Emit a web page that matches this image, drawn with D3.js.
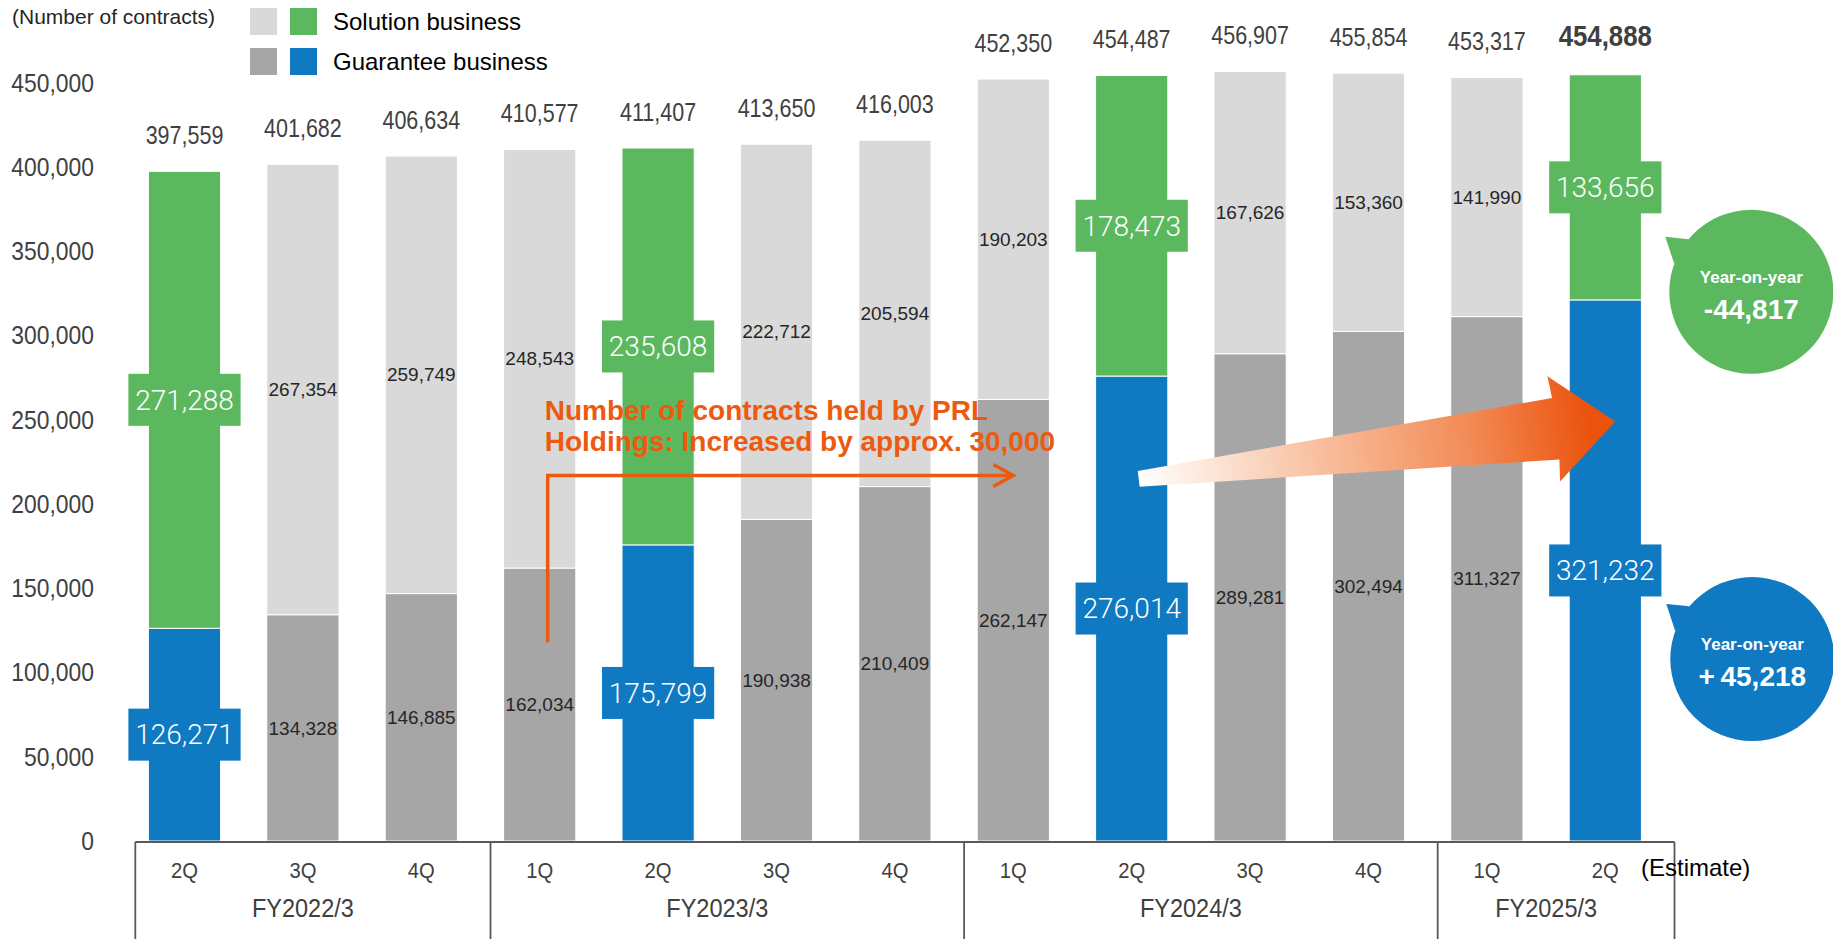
<!DOCTYPE html>
<html>
<head>
<meta charset="utf-8">
<script src="https://cdn.jsdelivr.net/npm/d3@7"></script>
<style>
  body { margin: 0; background: #fff; }
  svg text { font-family: "Liberation Sans", Arial, sans-serif; }
  svg text.light { font-family: Roboto, "Liberation Sans", sans-serif; font-weight: 300; }
</style>
</head>
<body>
<script>
// Contracts per quarter, split into guarantee / solution business
const quarters = ["2Q", "3Q", "4Q", "1Q", "2Q", "3Q", "4Q", "1Q", "2Q", "3Q", "4Q", "1Q", "2Q"];
const fiscalYears = ["FY2022/3", "FY2023/3", "FY2024/3", "FY2025/3"];
const quartersPerYear = [3, 4, 4, 2];
const guarantee = [126271, 134328, 146885, 162034, 175799, 190938, 210409, 262147, 276014, 289281, 302494, 311327, 321232];
const solution = [271288, 267354, 259749, 248543, 235608, 222712, 205594, 190203, 178473, 167626, 153360, 141990, 133656];
const highlighted = [0, 4, 8, 12]; // 2Q of each fiscal year
const yTicks = [0, 50000, 100000, 150000, 200000, 250000, 300000, 350000, 400000, 450000];

const W = 1833, H = 939;
const C = {
  light: "#d9d9d9", gray: "#a6a6a6", green: "#5cb85f", blue: "#0f79c2",
  orange: "#ec5a10", text: "#404040"
};

// narrow the glyphs of a text selection horizontally
function squeeze(sel, k) {
  sel.each(function () {
    const w = this.getComputedTextLength();
    d3.select(this).attr("textLength", w * k).attr("lengthAdjust", "spacingAndGlyphs");
  });
}

const svg = d3.select("body").append("svg").attr("width", W).attr("height", H);

const x = d3.scaleBand()
  .domain(d3.range(quarters.length))
  .range([125.3, 1664.5])
  .paddingInner(0.39)
  .paddingOuter(0.195);
const y = d3.scaleLinear().domain([0, 450000]).range([841, 83]);
const bw = x.bandwidth();
const cx = i => x(i) + bw / 2;
const fmt = d3.format(",");
const last = quarters.length - 1;

const rows = quarters.map((q, i) => ({
  i, q,
  g: guarantee[i],
  s: solution[i],
  total: guarantee[i] + solution[i],
  hi: highlighted.includes(i)
}));

// y axis labels only
svg.append("g")
  .attr("transform", "translate(94,0)")
  .call(d3.axisLeft(y).tickValues(yTicks).tickFormat(fmt).tickSize(0).tickPadding(0))
  .call(g => g.select(".domain").remove())
  .selectAll("text")
  .style("font-size", "26px")
  .style("font-family", null)
  .attr("fill", C.text)
  .call(squeeze, 0.88);

// stacked bars
const bars = svg.append("g");
bars.selectAll(".guar").data(rows).enter().append("rect")
  .attr("x", d => x(d.i)).attr("width", bw)
  .attr("y", d => y(d.g)).attr("height", d => y(0) - y(d.g))
  .attr("fill", d => d.hi ? C.blue : C.gray)
  .attr("stroke", "#fff").attr("stroke-width", 1);
bars.selectAll(".sol").data(rows).enter().append("rect")
  .attr("x", d => x(d.i)).attr("width", bw)
  .attr("y", d => y(d.total)).attr("height", d => y(d.g) - y(d.total))
  .attr("fill", d => d.hi ? C.green : C.light)
  .attr("stroke", "#fff").attr("stroke-width", 1);

// segment labels
const segs = [];
rows.forEach(d => {
  segs.push({ i: d.i, v: d.g, mid: d.g / 2, hi: d.hi, color: C.blue });
  segs.push({ i: d.i, v: d.s, mid: d.g + d.s / 2, hi: d.hi, color: C.green });
});
const labels = svg.append("g");
labels.selectAll("rect").data(segs.filter(s => s.hi)).enter().append("rect")
  .attr("x", s => cx(s.i) - bw / 2 - 20).attr("width", bw + 40)
  .attr("y", s => y(s.mid) - 26).attr("height", 52)
  .attr("fill", s => s.color);
labels.selectAll("text").data(segs).enter().append("text")
  .attr("class", s => s.hi ? "light" : null)
  .attr("x", s => cx(s.i)).attr("y", s => y(s.mid))
  .attr("dy", "0.35em")
  .attr("text-anchor", "middle")
  .attr("font-size", s => s.hi ? 28 : 19)
  .attr("fill", s => s.hi ? "#fff" : "#262626")
  .text(s => fmt(s.v));

// totals above each bar, the latest one in bold
svg.append("g").selectAll("text").data(rows).enter().append("text")
  .attr("x", d => cx(d.i))
  .attr("y", d => y(d.total) - (d.i === last ? 29 : 27))
  .attr("text-anchor", "middle")
  .attr("font-size", d => d.i === last ? 30 : 25)
  .attr("font-weight", d => d.i === last ? "bold" : null)
  .attr("fill", C.text)
  .text(d => fmt(d.total))
  .call(squeeze, 0.86);

// category box under the bars
const step = x.step();
const edge = i => (i < quarters.length ? x(i) : x(last) + step) - (step - bw) / 2 + 10;
const starts = [0];
quartersPerYear.forEach(n => starts.push(starts[starts.length - 1] + n));
const box = svg.append("g").attr("stroke", "#595959").attr("stroke-width", 1.8);
box.append("line")
  .attr("x1", edge(0)).attr("x2", edge(quarters.length))
  .attr("y1", y(0) + 1).attr("y2", y(0) + 1);
box.selectAll(".sep").data(starts).enter().append("line")
  .attr("class", "sep")
  .attr("x1", d => edge(d)).attr("x2", d => edge(d))
  .attr("y1", y(0) + 1).attr("y2", H);

svg.append("g").selectAll("text").data(rows).enter().append("text")
  .attr("x", d => cx(d.i)).attr("y", 870).attr("dy", "0.35em")
  .attr("text-anchor", "middle").attr("font-size", 22).attr("fill", C.text)
  .text(d => d.q)
  .call(squeeze, 0.92);
svg.append("g").selectAll("text").data(fiscalYears).enter().append("text")
  .attr("x", (f, k) => d3.mean(d3.range(starts[k], starts[k + 1]), cx))
  .attr("y", 908).attr("dy", "0.35em")
  .attr("text-anchor", "middle").attr("font-size", 25).attr("fill", C.text)
  .text(f => f)
  .call(squeeze, 0.94);
svg.append("text")
  .attr("x", 1641).attr("y", 868).attr("dy", "0.35em")
  .attr("font-size", 24).attr("fill", "#000")
  .text("(Estimate)");

// unit and legend
svg.append("text")
  .attr("x", 12).attr("y", 17).attr("dy", "0.35em")
  .attr("font-size", 21).attr("fill", "#262626")
  .text("(Number of contracts)");
const legend = [
  { name: "Solution business", colors: [C.light, C.green] },
  { name: "Guarantee business", colors: [C.gray, C.blue] }
];
const lg = svg.append("g").selectAll("g").data(legend).enter().append("g")
  .attr("transform", (d, k) => `translate(250,${8 + k * 40})`);
lg.selectAll("rect").data(d => d.colors).enter().append("rect")
  .attr("x", (c, k) => k * 40).attr("width", 27).attr("height", 27)
  .attr("fill", c => c);
lg.append("text")
  .attr("x", 83).attr("y", 13.5).attr("dy", "0.35em")
  .attr("font-size", 24).attr("fill", "#000")
  .text(d => d.name);

// elbow arrow with note
const elbowX = cx(3) + 8;
const elbowY = y(217000);
const elbowEnd = cx(7);
svg.append("path")
  .attr("d", `M${elbowX},${y(118000)}V${elbowY}H${elbowEnd}`)
  .attr("fill", "none").attr("stroke", C.orange).attr("stroke-width", 3.5);
svg.append("path")
  .attr("d", `M${elbowEnd - 20},${elbowY - 11}L${elbowEnd},${elbowY}L${elbowEnd - 20},${elbowY + 11}`)
  .attr("fill", "none").attr("stroke", C.orange).attr("stroke-width", 3.5);
const note = svg.append("text")
  .attr("font-size", 28).attr("font-weight", "bold").attr("fill", C.orange);
note.append("tspan").attr("x", elbowX - 3).attr("y", 420).text("Number of contracts held by PRL");
note.append("tspan").attr("x", elbowX - 3).attr("y", 451).text("Holdings: Increased by approx. 30,000");

// gradient block arrow toward the latest guarantee bar
const tail = [cx(8) + 7, y(215000)];
const tip = [cx(last) + 10, y(249000)];
const ang = Math.atan2(tip[1] - tail[1], tip[0] - tail[0]);
const len = Math.hypot(tip[0] - tail[0], tip[1] - tail[1]);
const local = [[0, -8], [len - 60, -31], [len - 62, -53], [len, 0], [len - 62, 53], [len - 60, 31], [0, 8]];
const pts = local.map(([u, v]) => [
  tail[0] + u * Math.cos(ang) - v * Math.sin(ang),
  tail[1] + u * Math.sin(ang) + v * Math.cos(ang)
]);
const grad = svg.append("defs").append("linearGradient")
  .attr("id", "arrowFill").attr("gradientUnits", "userSpaceOnUse")
  .attr("x1", tail[0]).attr("y1", tail[1]).attr("x2", tip[0]).attr("y2", tip[1]);
grad.selectAll("stop").data([
  [0, "#ffffff"], [0.35, "#f9c4a6"], [0.7, "#f28a55"], [0.95, "#eb520c"]
]).enter().append("stop")
  .attr("offset", s => s[0]).attr("stop-color", s => s[1]);
svg.append("polygon")
  .attr("points", pts.map(p => p.join(",")).join(" "))
  .attr("fill", "url(#arrowFill)");

// year-on-year bubbles for the latest quarter
const bubbles = [
  { v: solution[last] - solution[8], at: 326000, color: C.green, dx: 146 },
  { v: guarantee[last] - guarantee[8], at: 108000, color: C.blue, dx: 147 }
];
const signed = d3.format("+,");
const bub = svg.append("g").selectAll("g").data(bubbles).enter().append("g")
  .attr("transform", b => `translate(${cx(last) + b.dx},${y(b.at)})`);
const r = 82;
bub.append("polygon")
  .attr("points", () => {
    const a1 = -140 * Math.PI / 180, a2 = -160 * Math.PI / 180;
    return [[-86, -55], [r * Math.cos(a1), r * Math.sin(a1)], [r * Math.cos(a2), r * Math.sin(a2)]]
      .map(p => p.join(",")).join(" ");
  })
  .attr("fill", b => b.color);
bub.append("circle").attr("r", r).attr("fill", b => b.color);
bub.append("text")
  .attr("y", -15).attr("dy", "0.35em").attr("text-anchor", "middle")
  .attr("font-size", 17).attr("font-weight", "bold").attr("fill", "#fff")
  .text("Year-on-year");
bub.append("text")
  .attr("y", 17).attr("dy", "0.35em").attr("text-anchor", "middle")
  .attr("font-size", 28).attr("font-weight", "bold").attr("fill", "#fff")
  .text(b => b.v < 0 ? fmt(b.v).replace("−", "-") : signed(b.v).replace("+", "+\u2009"));
</script>
</body>
</html>
